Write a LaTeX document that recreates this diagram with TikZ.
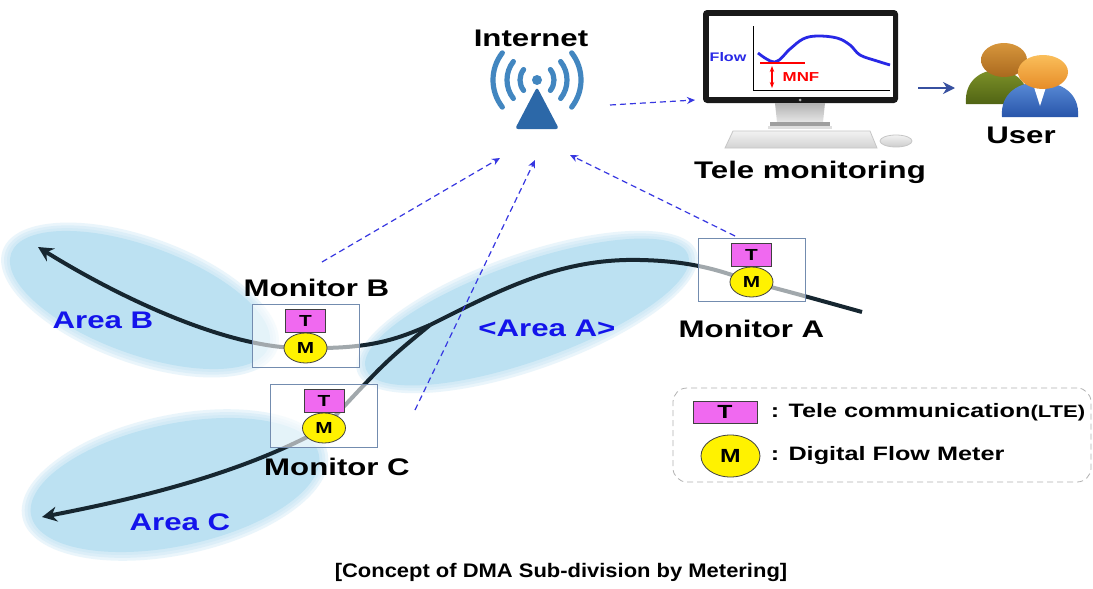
\documentclass[tikz,border=0pt]{standalone}
\usepackage{fontspec}
\newfontfamily\widefont{Liberation Sans Bold}[FakeStretch=1.3]
\newfontfamily\capfont{Liberation Sans Bold}[FakeStretch=1.12]
\usepackage{tikz}
\usetikzlibrary{positioning, arrows.meta, shapes.geometric, backgrounds}

\definecolor{areablue}{RGB}{188,225,242}
\definecolor{pipecol}{RGB}{22,38,48}
\definecolor{linkblue}{RGB}{55,55,225}
\definecolor{areatext}{RGB}{20,20,235}
\definecolor{boxedge}{RGB}{115,140,175}
\definecolor{tpink}{RGB}{240,105,240}
\definecolor{arcblue}{RGB}{66,134,192}
\definecolor{towerblue}{RGB}{44,104,168}
\definecolor{userarrow}{RGB}{55,80,160}
\definecolor{flowblue}{RGB}{40,40,230}
\definecolor{olivetop}{RGB}{125,145,40}
\definecolor{olivebot}{RGB}{80,100,20}
\definecolor{headtop}{RGB}{215,150,60}
\definecolor{headbot}{RGB}{170,105,30}
\definecolor{facetop}{RGB}{250,190,90}
\definecolor{facebot}{RGB}{230,140,40}
\definecolor{shirttop}{RGB}{90,140,215}
\definecolor{shirtbot}{RGB}{40,85,170}

\begin{document}
\begin{tikzpicture}[x=0.5pt, y=-0.5pt, node distance=2pt]
    \tikzstyle{monbox} = [rectangle, draw=boxedge, fill=white, fill opacity=0.6, minimum width=53.5pt, minimum height=31.5pt, inner sep=0pt]
    \tikzstyle{tbox} = [rectangle, draw=black!75, fill=tpink, minimum width=20pt, minimum height=11.5pt, inner sep=0pt, font=\widefont\fontsize{8}{9}\selectfont]
    \tikzstyle{meter} = [ellipse, draw=black!75, fill=yellow, minimum width=21.5pt, minimum height=15pt, inner sep=0pt, font=\widefont\fontsize{8}{9}\selectfont]
    \tikzstyle{monlabel} = [inner sep=0pt, font=\widefont\fontsize{12}{14}\selectfont]
    \tikzstyle{arealabel} = [inner sep=0pt, text=areatext, font=\widefont\fontsize{12}{14}\selectfont]
    \tikzstyle{pipeline} = [pipecol, line width=2pt]
    \tikzstyle{pipeend} = [pipeline, -{Stealth[length=7.5pt, width=7.5pt, inset=2.5pt]}]
    \tikzstyle{netlink} = [linkblue, line width=0.6pt, dash pattern=on 3pt off 2pt, -{Stealth[length=4pt, width=3.5pt]}]
    \tikzstyle{netwave} = [arcblue, line width=2.6pt, line cap=round]
    \tikzstyle{screenbox} = [rectangle, fill=black!90, rounded corners=2pt, minimum width=97.5pt, minimum height=46.5pt, inner sep=0pt]
    \tikzstyle{legendbox} = [rectangle, draw=gray!60, densely dashed, rounded corners=7pt, minimum width=209pt, minimum height=47pt]
    \tikzstyle{legendtext} = [inner sep=0pt, font=\widefont\fontsize{9.7}{11}\selectfont]
    \tikzstyle{captext} = [inner sep=0pt, font=\capfont\fontsize{9.8}{11}\selectfont]

    \path[use as bounding box] (0,0) rectangle (1093,589);

    % internet tower
    \node [monlabel] (internet) at (531,38) {Internet};
    \coordinate (dot) at (537,80);
    \fill [arcblue] (dot) circle[radius=5];
    \foreach \r in {17,30,44} {
        \draw [netwave] ([shift={(-38:\r)}]dot) arc[start angle=-38, end angle=38, radius=\r];
        \draw [netwave] ([shift={(142:\r)}]dot) arc[start angle=142, end angle=218, radius=\r];
    }
    \fill [towerblue, rounded corners=1.5pt] (537,87) -- (559,129) -- (515,129) -- cycle;

    % monitoring pc
    \node [screenbox] (screen) at (800.5,56.5) {};
    \node [fill=white, minimum width=92pt, minimum height=40.5pt, inner sep=0pt] (display) at (801,56.5) {};
    \draw [line width=0.5pt] (753,26) -- (753,90) -- (890,90);
    \draw [flowblue, line width=1.4pt] plot[smooth, tension=0.6] coordinates {(758,53) (775,62) (790,49) (803,39) (817,36) (837,38) (850,45) (860,55) (877,61) (890,65)};
    \draw [red, line width=0.6pt] (760,63) -- (805,63);
    \draw [red, line width=0.7pt, {Stealth[length=3pt]}-{Stealth[length=3pt]}] (772,66) -- (772,88);
    \node [inner sep=0pt, text=flowblue, font=\widefont\fontsize{6.2}{7}\selectfont] (flow) at (728,57) {Flow};
    \node [inner sep=0pt, text=red, font=\widefont\fontsize{6.5}{7}\selectfont] (mnf) at (801,77) {MNF};
    \fill [gray!60] (800,100) circle[radius=1.5];
    \shade [top color=gray!60, bottom color=gray!20] (775,103) -- (825,103) -- (823,122) -- (777,122) -- cycle;
    \fill [gray!75] (770,122) rectangle (830,126);
    \fill [gray!25] (768,126) rectangle (832,129);
    \shade [top color=gray!10, bottom color=gray!35, draw=gray!45] (733,131) -- (870,131) -- (877,148) -- (725,148) -- cycle;
    \shade [top color=gray!10, bottom color=gray!40, draw=gray!45] (896,141) ellipse[x radius=16, y radius=6];
    \node [monlabel] (tele) at (810,172) {Tele monitoring};

    % user
    \shade [top color=olivetop, bottom color=olivebot] (966,104) .. controls (964,80) and (982,70) .. (997,70) .. controls (1012,70) and (1030,80) .. (1028,104) -- cycle;
    \shade [top color=headtop, bottom color=headbot] (1004,60) ellipse[x radius=23, y radius=17];
    \shade [top color=shirttop, bottom color=shirtbot] (1002,117) .. controls (1000,92) and (1020,82) .. (1040,82) .. controls (1060,82) and (1080,92) .. (1078,117) -- cycle;
    \fill [white] (1033,84) -- (1047,84) -- (1040,106) -- cycle;
    \shade [top color=facetop, bottom color=facebot] (1043,72) ellipse[x radius=25, y radius=17];
    \node [monlabel] (user) at (1021,135) {User};

    % monitors on the pipe
    \node [monbox] (boxA) at (751.5,269.5) {};
    \node [monbox] (boxB) at (305.5,335.5) {};
    \node [monbox] (boxC) at (324,415.5) {};
    \node [meter] (mA) at ([yshift=-6.25pt]boxA.center) {M};
    \node [meter] (mB) at ([yshift=-6.25pt]boxB.center) {M};
    \node [meter] (mC) at ([yshift=-6.25pt]boxC.center) {M};
    \node [tbox, above=0pt of mA] (tA) {T};
    \node [tbox, above=0pt of mB] (tB) {T};
    \node [tbox, above=0pt of mC] (tC) {T};
    \node [monlabel, below=9pt of boxA] (labA) {Monitor A};
    \node [monlabel, above=3pt of boxB, xshift=5.5pt] (labB) {Monitor B};
    \node [monlabel, below=5pt of boxC, xshift=6.5pt] (labC) {Monitor C};

    \node [arealabel] (areaA) at (547,328) {<Area A>};
    \node [arealabel] (areaB) at (103,320) {Area B};
    \node [arealabel] (areaC) at (180,522) {Area C};

    % pipe ends and junction
    \coordinate (J) at (430,325);
    \coordinate (endA) at (862,312);
    \coordinate (endB) at (38,247);
    \coordinate (endC) at (42,517);

    % wireless links
    \coordinate (netOut) at (610,105);
    \coordinate (screenIn) at (695,100);
    \coordinate (fromA) at (735,236);
    \coordinate (toNetA) at (570,155);
    \coordinate (fromB) at (322,262);
    \coordinate (toNetB) at (500,158);
    \coordinate (fromC) at (415,410);
    \coordinate (toNetC) at (535,160);
    \draw [netlink] (netOut) -- (screenIn);
    \draw [netlink] (fromA) -- (toNetA);
    \draw [netlink] (fromB) -- (toNetB);
    \draw [netlink] (fromC) -- (toNetC);

    \coordinate (fromScreen) at (918,88);
    \coordinate (toUser) at (955,88);
    \draw [userarrow, line width=1.4pt, -{Stealth[length=6pt, width=6pt]}] (fromScreen) -- (toUser);

    % legend
    \node [legendbox] (legend) at (882,435) {};
    \node [tbox, minimum width=32pt, minimum height=11pt, font=\widefont\fontsize{9.5}{10}\selectfont] (legT) at (725,412) {T};
    \node [meter, minimum width=29.5pt, minimum height=21pt, font=\widefont\fontsize{9.5}{10}\selectfont] (legM) at (730.5,456) {M};
    \node [legendtext, right=6.5pt of legT] (legTtext) {: Tele communication{\fontsize{8.5}{9}\selectfont(LTE)}};
    \node [legendtext, right=5pt of legM] (legMtext) {: Digital Flow Meter};

    \node [captext] (caption) at (561,572) {[Concept of DMA Sub-division by Metering]};

    \begin{scope}[on background layer]
        \fill [white] (0,0) rectangle (1093,589);
        % areas, with a soft rim
        \foreach \cx/\cy/\rx/\ry/\tilt in {140/300/138/55/-20, 527/312/172/50/19.5, 175/485/148/62/12} {
            \begin{scope}[shift={(\cx,\cy)}, rotate=\tilt]
                \foreach \g in {8,5,2}
                    \fill [areablue, opacity=0.3] (0,0) ellipse[x radius=\rx+\g, y radius=\ry+\g];
                \fill [areablue] (0,0) ellipse[x radius=\rx-1, y radius=\ry-1];
            \end{scope}
        }
        % pipe
        \draw [pipeline] (J) .. controls (395,340) and (370,349) .. (mB.center);
        \draw [pipeend] (mB.center) .. controls (230,350) and (120,298) .. (endB);
        \draw [pipeline] (J) .. controls (500,290) and (560,258) .. (640,260) .. controls (690,261) and (720,270) .. (mA.center);
        \draw [pipeline] (mA.center) .. controls (790,292) .. (endA);
        \draw [pipeline] (J) .. controls (385,362) .. (mC.center);
        \draw [pipeend] (mC.center) .. controls (240,475) and (130,500) .. (endC);
    \end{scope}
\end{tikzpicture}
\end{document}
